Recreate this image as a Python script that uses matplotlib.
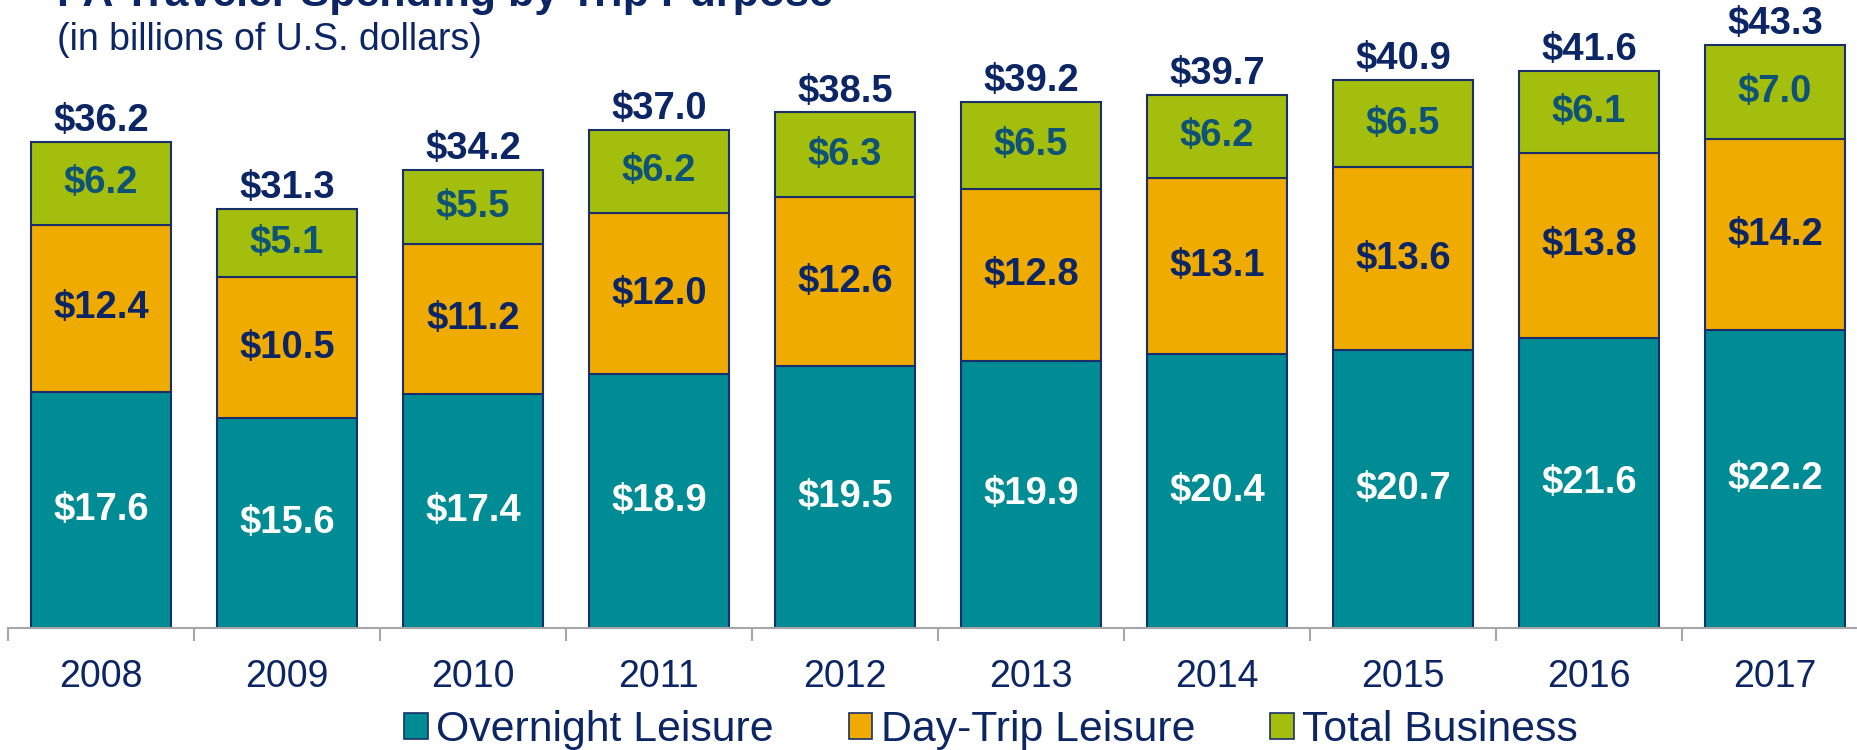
import matplotlib
matplotlib.use("Agg")
import matplotlib.pyplot as plt
import numpy as np
from matplotlib.patches import Patch

plt.rcParams['font.family'] = ['Liberation Sans', 'DejaVu Sans']

years = ["2008", "2009", "2010", "2011", "2012", "2013", "2014", "2015", "2016", "2017"]
overnight = [17.6, 15.6, 17.4, 18.9, 19.5, 19.9, 20.4, 20.7, 21.6, 22.2]
daytrip = [12.4, 10.5, 11.2, 12.0, 12.6, 12.8, 13.1, 13.6, 13.8, 14.2]
business = [6.2, 5.1, 5.5, 6.2, 6.3, 6.5, 6.2, 6.5, 6.1, 7.0]
totals = [36.2, 31.3, 34.2, 37.0, 38.5, 39.2, 39.7, 40.9, 41.6, 43.3]
series_names = ["Overnight Leisure", "Day-Trip Leisure", "Total Business"]

C_TEAL = "#008C95"
C_ORANGE = "#F0AB00"
C_GREEN = "#A3BE0C"
NAVY = "#0B2565"
EDGE = "#1A2F6A"
BIZ_TXT = "#0E5276"

W, H = 1858, 750
fig = plt.figure(figsize=(W / 100, H / 100), dpi=100)

# axes geometry in pixels
left_px, right_px = 8, 1868
base_px = 628
px_per_unit = 13.43
ymax = base_px / px_per_unit
ax = fig.add_axes([left_px / W, (H - base_px) / H, (right_px - left_px) / W, base_px / H])

x = np.arange(len(years))
bw = 0.75
ax.bar(x, overnight, bw, color=C_TEAL, edgecolor=EDGE, linewidth=1.5)
ax.bar(x, daytrip, bw, bottom=overnight, color=C_ORANGE, edgecolor=EDGE, linewidth=1.5)
bottom2 = [a + b for a, b in zip(overnight, daytrip)]
ax.bar(x, business, bw, bottom=bottom2, color=C_GREEN, edgecolor=EDGE, linewidth=1.5)

fs = 27.5
for i in range(len(years)):
    ax.text(x[i], overnight[i] / 2, f"${overnight[i]:.1f}", ha='center', va='center',
            fontsize=fs, fontweight='bold', color='white')
    ax.text(x[i], overnight[i] + daytrip[i] / 2, f"${daytrip[i]:.1f}", ha='center', va='center',
            fontsize=fs, fontweight='bold', color=NAVY)
    ax.text(x[i], bottom2[i] + business[i] / 2, f"${business[i]:.1f}", ha='center', va='center',
            fontsize=fs, fontweight='bold', color=BIZ_TXT)
    top = bottom2[i] + business[i]
    ax.annotate(f"${totals[i]:.1f}", (x[i], top), xytext=(0, 2), textcoords='offset points',
                ha='center', va='bottom', fontsize=fs, fontweight='bold', color=NAVY)

ax.set_xlim(-0.5, len(years) - 0.5)
ax.set_ylim(0, ymax)
for s in ['top', 'right', 'left']:
    ax.spines[s].set_visible(False)
ax.spines['bottom'].set_color('#A6A6A6')
ax.spines['bottom'].set_linewidth(1.5)
ax.set_yticks([])
ax.set_xticks(x)
ax.set_xticklabels(years, fontsize=27, color=NAVY)
ax.tick_params(axis='x', which='major', length=0, pad=22)
ax.set_xticks(np.arange(-0.5, len(years), 1.0), minor=True)
ax.tick_params(axis='x', which='minor', length=9, width=1.5, color='#A6A6A6', direction='out')

# title & subtitle
fig.text(57 / W, (H - 6) / H, "PA Traveler Spending by Trip Purpose", fontsize=31,
         fontweight='bold', color=NAVY, ha='left', va='baseline')
fig.text(57 / W, (H - 50) / H, "(in billions of U.S. dollars)", fontsize=27,
         color=NAVY, ha='left', va='baseline')

handles = [Patch(facecolor=c, edgecolor=EDGE, linewidth=1.2) for c in (C_TEAL, C_ORANGE, C_GREEN)]
leg = fig.legend(handles, series_names, loc='center left', bbox_to_anchor=(404 / W, (H - 730) / H),
                 ncol=3, frameon=False, fontsize=30.8, handlelength=0.55, handleheight=0.55,
                 handletextpad=0.2, columnspacing=1.75, borderpad=0, borderaxespad=0)
for t in leg.get_texts():
    t.set_color(NAVY)

fig.savefig("out.png", dpi=100)
